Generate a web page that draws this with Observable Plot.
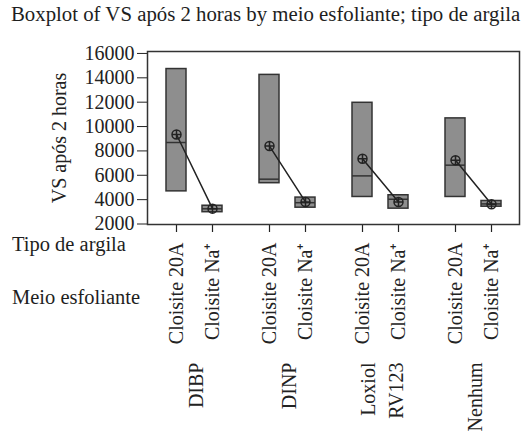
<!DOCTYPE html>
<html>
<head>
<meta charset="utf-8">
<script src="https://cdn.jsdelivr.net/npm/d3@7"></script>
<script src="https://cdn.jsdelivr.net/npm/@observablehq/plot@0.6"></script>
<style>
  body { margin: 0; background: #fff; }
  #wrap { position: relative; width: 524px; height: 431px; font-family: "Liberation Serif", "Times New Roman", serif; color: #1e1e1e; overflow: hidden; }
  #title { position: absolute; left: 11px; top: 4px; font-size: 20.8px; line-height: 1; white-space: nowrap; font-family: "Liberation Serif", serif; }
  .rowlab { position: absolute; left: 12px; font-size: 20.5px; line-height: 1; white-space: nowrap; font-family: "Liberation Serif", serif; }
  #chart { position: absolute; left: 0; top: 34px; }
</style>
</head>
<body>
<div id="wrap">
  <div id="title">Boxplot of VS após 2 horas by meio esfoliante; tipo de argila</div>
  <div id="chart"></div>
  <div class="rowlab" style="top:234px">Tipo de argila</div>
  <div class="rowlab" style="top:287px">Meio esfoliante</div>
</div>
<script>
// Groups (meio esfoliante) and clay types (tipo de argila)
const meio = ["DIBP", "DINP", "Loxiol RV123", "Nenhum"];
const tipo = ["Cloisite 20A", "Cloisite Na⁺"];

// Box statistics, ordered meio × tipo
const q1     = [4680, 2970, 5350, 3340, 4220, 3260, 4220, 3420];
const median = [8690, 3250, 5680, 3750, 5950, 4030, 6830, 3650];
const q3     = [14720, 3500, 14240, 4170, 11950, 4360, 10670, 3890];
const mean   = [9350, 3260, 8400, 3810, 7350, 3810, 7240, 3620];

// Y axis tick values
const yTicks = [2000, 4000, 6000, 8000, 10000, 12000, 14000, 16000];

const rows = [];
meio.forEach((m, i) => tipo.forEach((t, j) => {
  const k = i * tipo.length + j;
  rows.push({meio: m, tipo: t, q1: q1[k], median: median[k], q3: q3[k], mean: mean[k]});
}));

// Circle with a plus inside, used for the mean
const circlePlus = {
  draw(context, size) {
    const r = Math.sqrt(size / Math.PI);
    context.moveTo(-r, 0); context.lineTo(r, 0);
    context.moveTo(0, -r); context.lineTo(0, r);
    context.moveTo(r, 0); context.arc(0, 0, r, 0, 2 * Math.PI);
  }
};

const ink = "#222";
const serif = "'Liberation Serif', 'Times New Roman', serif";

const chart = Plot.plot({
  width: 524,
  height: 397,
  marginLeft: 145,
  marginRight: 4,
  marginTop: 17,
  marginBottom: 207,
  style: {fontFamily: serif, fontSize: "20px", color: ink, background: "white"},
  fx: {domain: meio, padding: 0},
  x: {domain: tipo, paddingInner: 0.446, paddingOuter: 0.49},
  y: {domain: [1960, 16160]},
  marks: [
    Plot.barY(rows, {fx: "meio", x: "tipo", y1: "q1", y2: "q3", fill: "#8e8e8e", stroke: "#333", strokeWidth: 1.5}),
    Plot.tickY(rows, {fx: "meio", x: "tipo", y: "median", stroke: "#333", strokeWidth: 1.5}),
    Plot.line(rows, {fx: "meio", x: "tipo", y: "mean", stroke: ink, strokeWidth: 1.5}),
    Plot.dot(rows, {fx: "meio", x: "tipo", y: "mean", symbol: circlePlus, r: 4.5, fill: "none", stroke: ink, strokeWidth: 1.5}),
    Plot.axisY({ticks: yTicks, tickFormat: d3.format("d"), tickSize: 10, tickPadding: 3, fontSize: 20, fontFamily: serif,
                label: "VS após 2 horas", labelAnchor: "center", labelArrow: "none", labelOffset: 96}),
    // tick marks below the frame
    Plot.axisX({tickSize: 8, tickFormat: null, label: null, strokeWidth: 1.2}),
    // rotated tick labels for the clay type
    Plot.axisX({tickSize: 0, tickPadding: 18, rotate: -90, textAnchor: "end", lineAnchor: "middle", fontSize: 20, fontFamily: serif, label: null}),
    Plot.axisFx({anchor: "bottom", tickSize: 0, tickPadding: 138, rotate: -90, textAnchor: "end", lineAnchor: "middle",
                 lineHeight: 1.4, fontSize: 20, fontFamily: serif, label: null, tickFormat: d => d.replace(" ", "\n")}),
    Plot.frame({facet: "super", stroke: "#333", strokeWidth: 1.5})
  ]
});
document.getElementById("chart").appendChild(chart);
</script>
</body>
</html>
